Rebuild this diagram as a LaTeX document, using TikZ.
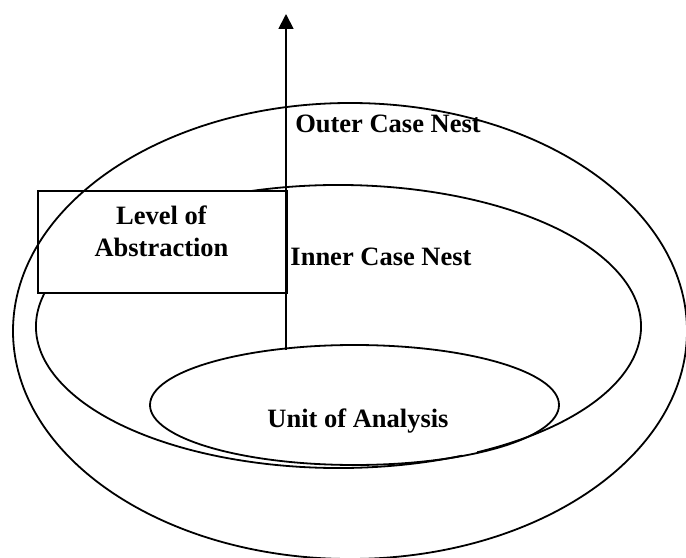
\documentclass[tikz,border=0pt]{standalone}
\usepackage{fontspec}
\setmainfont{Liberation Serif}
\usetikzlibrary{arrows.meta}
\begin{document}
\begin{tikzpicture}[x=1bp,y=-1bp,
  shapeline/.style={draw=black, line width=1.8bp},
  lbl/.style={font=\bfseries\fontsize{26.5bp}{32bp}\selectfont, inner sep=0pt, anchor=base},
  boxstyle/.style={shapeline, fill=white, inner sep=0pt, minimum width=249bp, minimum height=102bp, anchor=north west}]
\useasboundingbox (0,0) rectangle (686,558);
% inner case nest (with its small break near the bottom right)
\coordinate (innerc) at (338.5,326.5);
\draw[shapeline] (innerc) ++(65.9:302.5 and 141.5)
  arc[start angle=65.9, end angle=422.7, x radius=302.5, y radius=141.5];
% unit of analysis
\coordinate (unitc) at (354.5,405);
\draw[shapeline] (unitc) ellipse [x radius=204.5, y radius=60];
% level of abstraction box
\node[boxstyle] (loabox) at (37,190) {};
% outer case nest
\coordinate (outerc) at (350,331);
\draw[shapeline] (outerc) ellipse [x radius=337, y radius=228];
% arrow
\coordinate (arrowfoot) at (286,350);
\coordinate (arrowtip) at (286,14);
\draw[shapeline, -{Triangle[width=15bp,length=15bp]}] (arrowfoot) -- (arrowtip);
% labels
\node[lbl] (outerlbl) at (388,133) {Outer Case Nest};
\node[lbl] (innerlbl) at (381,266) {Inner Case Nest};
\node[lbl] (unitlbl) at (358,427) {Unit of Analysis};
\node[font=\bfseries\fontsize{26.5bp}{32bp}\selectfont, inner sep=0pt, align=center, text depth=0pt, anchor=south] (loalbl) at (161.5,257) {Level of\\Abstraction};
\end{tikzpicture}
\end{document}
